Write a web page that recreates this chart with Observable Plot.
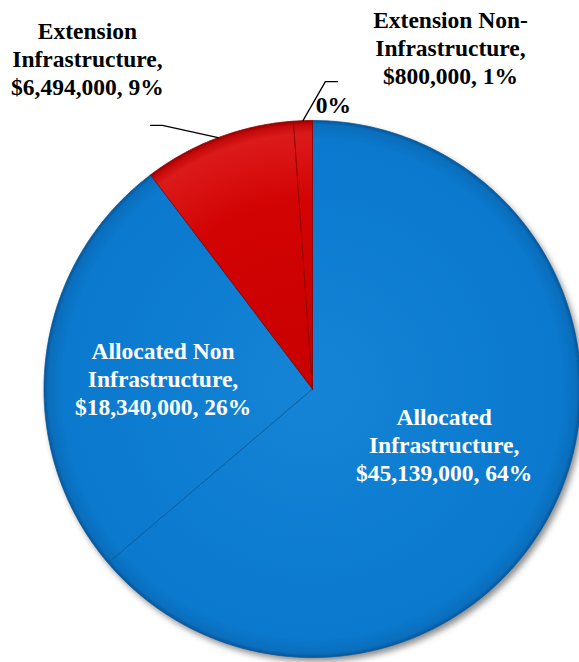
<!DOCTYPE html>
<html><head><meta charset="utf-8">
<script src="https://cdn.jsdelivr.net/npm/d3@7"></script>
<script src="https://cdn.jsdelivr.net/npm/@observablehq/plot@0.6"></script>
<style>body{margin:0;background:#fff}#chart{width:579px;height:662px}</style>
</head><body><div id="chart"></div>
<script>
// ---- data ----
const names = ["Allocated Infrastructure", "Allocated Non Infrastructure", "Extension Infrastructure", "Extension Non-Infrastructure", ""];
const values = [45139000, 18340000, 6494000, 800000, 0];
const percents = ["64%", "26%", "9%", "1%", "0%"];
const labelTexts = [
  "Allocated\nInfrastructure,\n$45,139,000, 64%",
  "Allocated Non\nInfrastructure,\n$18,340,000, 26%",
  "Extension\nInfrastructure,\n$6,494,000, 9%",
  "Extension Non-\nInfrastructure,\n$800,000, 1%",
  "0%"
];
const sliceGroup = ["blue", "blue", "red", "red", "red"];
// label layout (unit-circle coordinates); inside labels use the slice centroid radius
const labelInside = [true, true, false, false, false];
const insideRadius = [0.54, 0.56];
const insideDy = [0.022, -0.019];
const outsideX = [null, null, -0.838, 0.514, 0.078];
const outsideY = [null, null, 1.231, 1.272, 1.06];
// leader lines: slice whose rim they touch, elbow and end (unit coords)
const leaderSlice = [2, 3];
const leaderElbowX = [-0.559, 0.048];
const leaderElbowY = [0.982, 1.145];
const leaderEndX = [-0.603, 0.093];
const leaderEndY = [0.982, 1.145];

// ---- geometry from data ----
const arcs = d3.pie().sort(null).value(d => d)(values);
const pts = [];
arcs.forEach((a, i) => {
  const span = a.endAngle - a.startAngle;
  if (span <= 0) return;
  const n = Math.max(2, Math.ceil(span / (Math.PI / 360)));
  pts.push({i, g: sliceGroup[i], x: 0, y: 0});
  for (let k = 0; k <= n; k++) {
    const t = a.startAngle + span * k / n;
    pts.push({i, g: sliceGroup[i], x: Math.sin(t), y: Math.cos(t)});
  }
  pts.push({i, g: sliceGroup[i], x: 0, y: 0});
});
const disk = d3.range(0, 721).map(k => ({x: Math.sin(k / 720 * 2 * Math.PI), y: Math.cos(k / 720 * 2 * Math.PI)}));

const labels = arcs.map((a, i) => {
  const mid = (a.startAngle + a.endAngle) / 2;
  if (labelInside[i]) {
    const r = insideRadius[i];
    return {text: labelTexts[i], x: r * Math.sin(mid), y: r * Math.cos(mid) + insideDy[i], inside: true};
  }
  return {text: labelTexts[i], x: outsideX[i], y: outsideY[i], inside: false};
});

const leaders = [];
leaderSlice.forEach((s, k) => {
  const a = arcs[s];
  const mid = (a.startAngle + a.endAngle) / 2;
  leaders.push({k, x: Math.sin(mid), y: Math.cos(mid)});
  leaders.push({k, x: leaderElbowX[k], y: leaderElbowY[k]});
  leaders.push({k, x: leaderEndX[k], y: leaderEndY[k]});
});

const font = "'Liberation Serif', 'Times New Roman', serif";

const plot = Plot.plot({
  width: 579,
  height: 662,
  margin: 0,
  x: {domain: [-1, 1], range: [43.5, 580.5], axis: null},
  y: {domain: [-1, 1], range: [657, 120], axis: null},
  marks: [
    Plot.line(disk, {x: "x", y: "y", fill: "#000", fillOpacity: 0.45, stroke: "none"}),
    Plot.line(pts.filter(d => d.g === "blue"), {x: "x", y: "y", z: "i", fill: "url(#gBlue)", stroke: "#0a5a9c", strokeWidth: 0.8, strokeLinejoin: "round"}),
    Plot.line(pts.filter(d => d.g === "red"), {x: "x", y: "y", z: "i", fill: "url(#gRed)", stroke: "#8a0000", strokeWidth: 0.8, strokeLinejoin: "round"}),
    Plot.line(leaders, {x: "x", y: "y", z: "k", stroke: "#000", strokeWidth: 1.3}),
    Plot.text(labels.filter(d => d.inside), {x: "x", y: "y", text: "text", fill: "#fff", fontSize: 23.5, fontWeight: "bold", fontFamily: font, lineHeight: 1.19}),
    Plot.text(labels.filter(d => !d.inside), {x: "x", y: "y", text: "text", fill: "#000", fontSize: 23.5, fontWeight: "bold", fontFamily: font, lineHeight: 1.19})
  ]
});

// gradients & shadow, centered using the plot's scales
const sx = plot.scale("x"), sy = plot.scale("y");
const cx = sx.apply(0), cy = sy.apply(0), r = sx.apply(1) - sx.apply(0);
const ns = "http://www.w3.org/2000/svg";
const defs = document.createElementNS(ns, "defs");
defs.innerHTML = `
<radialGradient id="gBlue" gradientUnits="userSpaceOnUse" cx="${cx}" cy="${cy}" r="${r}">
  <stop offset="0" stop-color="#1684d6"/>
  <stop offset="0.6" stop-color="#0d7dd1"/>
  <stop offset="0.93" stop-color="#0b79cd"/>
  <stop offset="0.985" stop-color="#0a6ebd"/>
  <stop offset="1" stop-color="#06569a"/>
</radialGradient>
<radialGradient id="gRed" gradientUnits="userSpaceOnUse" cx="${cx}" cy="${cy}" r="${r}">
  <stop offset="0" stop-color="#c80000"/>
  <stop offset="0.7" stop-color="#d20303"/>
  <stop offset="0.95" stop-color="#dc1a1a"/>
  <stop offset="0.985" stop-color="#c40808"/>
  <stop offset="1" stop-color="#9a0000"/>
</radialGradient>
<filter id="shadow" x="-10%" y="-10%" width="120%" height="120%">
  <feGaussianBlur stdDeviation="3"/>
  <feOffset dx="3" dy="4"/>
</filter>`;
plot.insertBefore(defs, plot.firstChild);
const lineGroups = plot.querySelectorAll('g[aria-label="line"]');
lineGroups[0].setAttribute("filter", "url(#shadow)");
document.getElementById("chart").appendChild(plot);
</script>
</body></html>
